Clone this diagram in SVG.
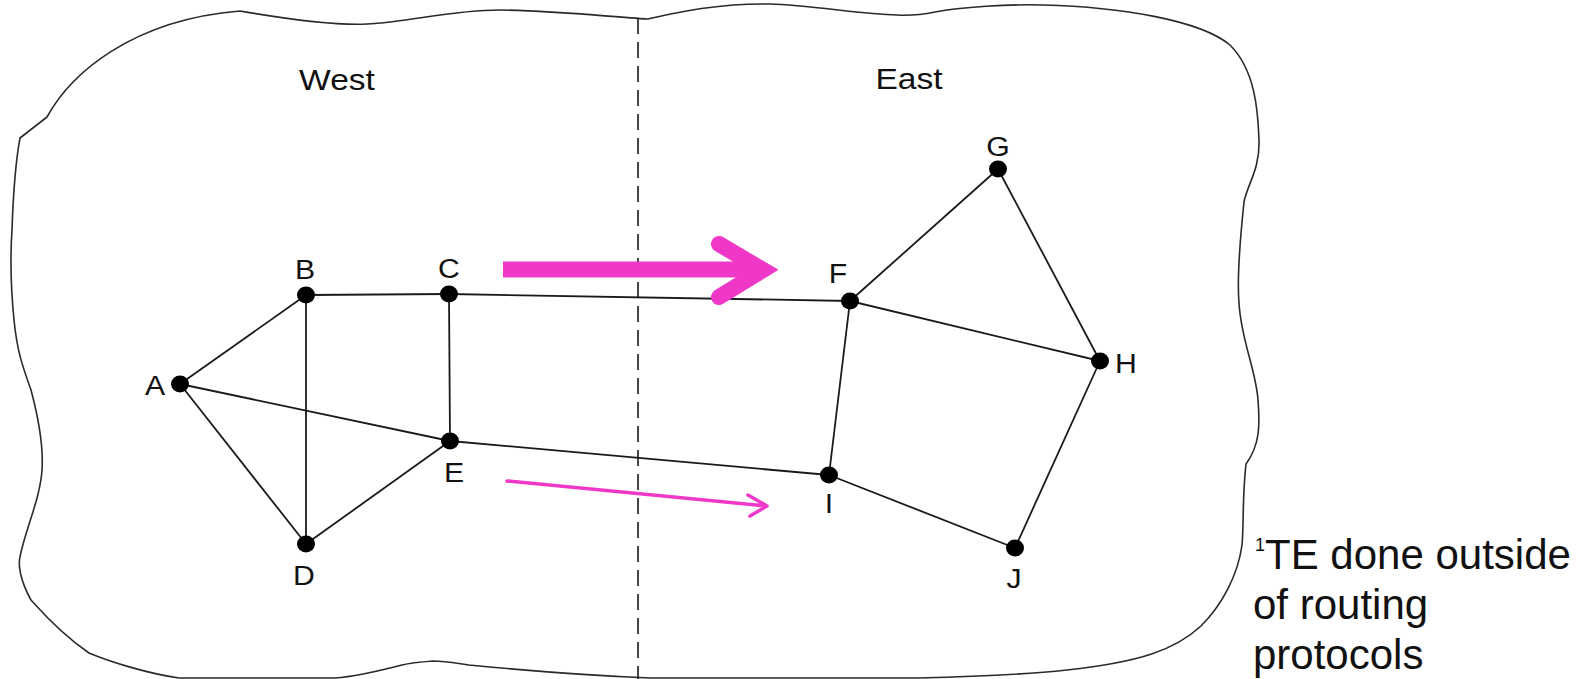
<svg xmlns="http://www.w3.org/2000/svg" width="1583" height="679" viewBox="0 0 1583 679">
  <defs>
    <style>
      .cloud { fill: none; stroke: #2a2a2a; stroke-width: 1.6; stroke-linejoin: round; }
      .divider { stroke: #1a1a1a; stroke-width: 1.6; stroke-dasharray: 16 8; }
      .link { stroke: #1a1a1a; stroke-width: 1.8; fill: none; }
      .dot { fill: #000; }
      .lbl { font-family: "Liberation Sans", Arial, sans-serif; font-size: 27px; fill: #111; text-anchor: middle; }
      .region { font-family: "Liberation Sans", Arial, sans-serif; font-size: 30px; fill: #111; text-anchor: middle; }
      .note { font-family: "Liberation Sans", Arial, sans-serif; font-size: 42px; fill: #111; }
      .te-big { fill: none; stroke: #F038C8; stroke-width: 16; }
      .te-small { fill: none; stroke: #F038C8; stroke-width: 3.5; stroke-linecap: round; stroke-linejoin: round; }
    </style>
  </defs>

  <!-- network boundary -->
  <path id="boundary" class="cloud" d="M 20,138 L 47,117 C 70,75 130,20 240,11 C 275,17 330,26 367,24 C 410,22 450,10 500,10 C 560,11 610,17 648,19 C 680,12 720,3 770,4 C 810,5 860,14 897,15 C 915,16 925,14 935,12 C 960,7 1010,4 1043,5 C 1120,7 1200,20 1230,45 C 1255,70 1258,110 1259,140 C 1260,170 1247,185 1244,202 C 1240,240 1237,280 1239,303 C 1241,340 1256,370 1258,400 C 1260,425 1260,445 1246,464 C 1242,500 1244,525 1242,545 C 1238,575 1222,605 1201,626 C 1175,650 1140,662 1067,670 C 1020,675 960,677 918,678 L 650,678 C 600,676 520,670 469,665 C 455,663 445,661 433,661 C 420,662 410,663 402,665 C 375,672 350,677 335,678 L 179,678 C 150,674 110,662 89,653 C 60,633 40,610 31,600 C 20,580 18,565 20,557 C 25,530 40,500 42,470 C 44,440 35,405 31,390 C 22,365 17,350 14,320 C 11,290 10,260 12,230 C 13,200 15,165 20,138 Z"/>

  <!-- west / east divider -->
  <line id="divider" class="divider" x1="638" y1="18" x2="638" y2="679"/>

  <text id="label-west" class="region" transform="translate(337,90) scale(1.12,1)">West</text>
  <text id="label-east" class="region" transform="translate(909,89) scale(1.12,1)">East</text>

  <!-- links -->
  <g id="links" class="link">
    <line x1="180" y1="384" x2="306" y2="295"/>
    <line x1="180" y1="384" x2="306" y2="544"/>
    <line x1="180" y1="384" x2="450" y2="441"/>
    <line x1="306" y1="295" x2="449" y2="294"/>
    <line x1="306" y1="295" x2="306" y2="544"/>
    <line x1="449" y1="294" x2="450" y2="441"/>
    <line x1="449" y1="294" x2="850" y2="301"/>
    <line x1="306" y1="544" x2="450" y2="441"/>
    <line x1="450" y1="441" x2="829" y2="475"/>
    <line x1="850" y1="301" x2="998" y2="169"/>
    <line x1="850" y1="301" x2="1100" y2="361"/>
    <line x1="850" y1="301" x2="829" y2="475"/>
    <line x1="998" y1="169" x2="1100" y2="361"/>
    <line x1="1100" y1="361" x2="1015" y2="548"/>
    <line x1="829" y1="475" x2="1015" y2="548"/>
  </g>

  <!-- traffic-engineering arrows -->
  <g id="te-arrows">
    <path class="te-big" d="M 503,269.5 L 764,269.5"/>
    <path class="te-big" d="M 719,244 L 763,270 L 719,297" stroke-linecap="round" stroke-linejoin="miter"/>
    <path class="te-small" d="M 507,481 L 767,506 M 748,495 L 767,506 L 750,516"/>
  </g>

  <!-- nodes -->
  <g id="node-A"><ellipse class="dot" cx="180" cy="384" rx="9" ry="8.5"/><text class="lbl" transform="translate(155,395) scale(1.12,1)">A</text></g>
  <g id="node-B"><ellipse class="dot" cx="306" cy="295" rx="9" ry="8.5"/><text class="lbl" transform="translate(305,279) scale(1.12,1)">B</text></g>
  <g id="node-C"><ellipse class="dot" cx="449" cy="294" rx="9" ry="8.5"/><text class="lbl" transform="translate(449,278) scale(1.12,1)">C</text></g>
  <g id="node-D"><ellipse class="dot" cx="306" cy="544" rx="9" ry="8.5"/><text class="lbl" transform="translate(304,585) scale(1.12,1)">D</text></g>
  <g id="node-E"><ellipse class="dot" cx="450" cy="441" rx="9" ry="8.5"/><text class="lbl" transform="translate(454,482) scale(1.12,1)">E</text></g>
  <g id="node-F"><ellipse class="dot" cx="850" cy="301" rx="9" ry="8.5"/><text class="lbl" transform="translate(838,283) scale(1.12,1)">F</text></g>
  <g id="node-G"><ellipse class="dot" cx="998" cy="169" rx="9" ry="8.5"/><text class="lbl" transform="translate(998,156) scale(1.12,1)">G</text></g>
  <g id="node-H"><ellipse class="dot" cx="1100" cy="361" rx="9" ry="8.5"/><text class="lbl" transform="translate(1126,373) scale(1.12,1)">H</text></g>
  <g id="node-I"><ellipse class="dot" cx="829" cy="475" rx="9" ry="8.5"/><text class="lbl" transform="translate(829,513) scale(1.12,1)">I</text></g>
  <g id="node-J"><ellipse class="dot" cx="1015" cy="548" rx="9" ry="8.5"/><text class="lbl" transform="translate(1014,588) scale(1.12,1)">J</text></g>

  <!-- footnote -->
  <g id="footnote">
    <text class="note" x="1255" y="569"><tspan font-size="18" dy="-18">1</tspan><tspan dy="18">TE done outside</tspan></text>
    <text class="note" x="1253" y="619">of routing</text>
    <text class="note" x="1253" y="669">protocols</text>
  </g>
</svg>
